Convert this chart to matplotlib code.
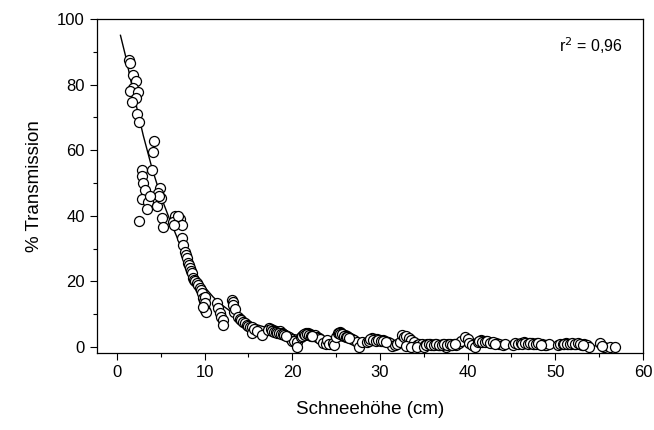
import matplotlib
matplotlib.use('Agg')
import matplotlib.pyplot as plt
from matplotlib.ticker import MultipleLocator

plt.rcParams['font.family'] = ['Liberation Sans', 'DejaVu Sans']

# measured points (snow depth cm, % transmission)
snow = [1.4, 1.5, 1.8, 2.2, 1.8, 1.5, 2.4, 2.2, 1.7, 2.3, 2.5,
        4.2, 4.1, 2.9, 4.0, 2.9, 3.0, 3.2, 4.9, 4.7, 2.9, 3.5, 3.4, 4.6, 2.5, 5.1,
        5.2, 5.0, 4.8, 6.6, 6.4, 7.2, 7.0, 7.4, 6.5, 3.8,
        7.4, 7.5, 7.75, 7.9, 8.0, 8.1, 8.2, 8.3, 8.45, 8.55, 8.7, 8.8, 8.9, 9.1,
        9.3, 9.5, 9.6, 9.7, 9.8, 9.9, 10.0, 10.0, 10.0, 10.2, 9.8,
        11.4, 11.5, 11.7, 11.9, 12.1, 12.1, 13.1, 13.2, 13.2, 13.4, 13.5, 13.8,
        14.0, 14.2, 14.4, 14.6, 14.8, 15.0, 15.2, 15.4, 15.4, 15.6, 16.0, 16.6,
        17.4, 17.2,
        17.6, 17.8, 18.0, 18.2, 18.4, 18.6, 18.8, 19.0, 19.2, 19.4, 19.6, 19.8,
        20.0, 20.2, 20.5, 20.5, 21.0, 21.2, 21.4, 21.6, 21.8, 22.0, 22.2, 22.4,
        22.6, 22.8, 23.0, 23.2, 23.5, 23.8, 24.0, 24.2, 24.6, 24.8,
        25.0, 25.2, 25.4, 25.6, 25.8, 26.0, 26.2, 26.4, 26.6, 26.8, 27.0, 27.4,
        27.6, 28.0, 28.5, 28.8, 29.1, 29.4, 29.7, 30.0, 30.3, 30.6, 30.9, 31.1,
        31.4, 31.7,
        32.0, 32.3, 32.5, 32.7, 33.0, 33.3, 33.6, 33.9, 34.2, 34.5, 34.8, 35.1,
        35.4, 35.7, 36.0, 36.3, 36.6, 36.9, 37.2, 37.5, 37.8, 38.1, 38.4, 38.7,
        39.0, 33.0, 33.6, 34.2, 35.0, 37.5,
        39.3, 39.7, 40.0, 40.2, 40.5, 40.8, 41.2, 41.5, 41.8, 42.1, 42.4, 42.7,
        43.0, 43.3, 43.6, 44.0, 44.3, 45.2, 45.4,
        45.8, 46.1, 46.4, 46.7, 47.0, 47.3, 47.6, 47.9, 48.2, 48.5, 48.8, 49.0,
        49.3,
        50.3, 50.6, 50.9, 51.2, 51.5, 51.8, 52.1, 52.4, 52.7, 53.0, 53.3, 53.6,
        53.9, 55.1, 55.6, 56.2, 56.8, 55.3,
        # densely overlapping runs in the tail
        17.7, 17.9, 18.1, 18.3, 18.5, 18.7, 18.9, 19.1, 19.3, 21.1, 21.3, 21.5,
        21.7, 21.9, 22.1, 22.3, 25.3, 25.5, 25.7, 25.9, 26.1, 26.3, 26.5, 28.9,
        29.2, 29.5, 29.8, 30.1, 30.4, 30.7, 35.25, 35.55, 35.85, 36.15, 36.45,
        36.75, 37.05, 37.35, 37.65, 37.95, 38.25, 38.55, 41.35, 41.65, 41.95,
        42.25, 42.55, 42.85, 43.15, 46.25, 46.55, 46.85, 47.15, 47.45, 47.75,
        48.05, 48.35, 51.05, 51.35, 51.65, 51.95, 52.25, 52.55, 52.85, 53.15]
trans = [87.5, 86.5, 83, 81, 79, 78, 77.6, 76, 74.6, 71, 68.5,
         62.7, 59.3, 54, 54, 52, 50, 48, 48.6, 47, 45, 44.3, 42, 43, 38.5, 39.4,
         36.7, 45.5, 46, 40, 38, 39, 39.8, 37.3, 37.3, 46,
         33.3, 31, 29, 28, 27.2, 25.7, 25, 24, 23.3, 22.6, 21, 20.5, 20.2, 19.6,
         19, 18, 17.4, 16.5, 15, 14.2, 15.3, 13.4, 11.3, 10.7, 12.3,
         13.4, 12, 10.4, 9.2, 8.3, 6.7, 14.4, 13.8, 12.8, 10.7, 11.6, 9.2,
         8.5, 8.3, 7.6, 7.2, 6.7, 6.4, 6.1, 6.1, 4.3, 5.5, 5, 3.7,
         5.8, 5.2,
         5.5, 5.3, 5.0, 4.8, 4.6, 4.8, 4.4, 4.0, 3.8, 3.4, 3.0, 2.5,
         2.0, 1.8, 1.5, 0.0, 3.2, 3.6, 4.0, 4.2, 4.3, 4.0, 3.8, 3.5,
         3.6, 3.2, 2.8, 2.4, 1.2, 1.0, 2.2, 0.8, 1.2, 0.6,
         3.0, 4.2, 4.6, 4.4, 3.7, 3.8, 3.4, 3.0, 2.8, 2.6, 2.2, 1.5,
         0.0, 1.6, 1.5, 2.0, 2.8, 2.6, 2.4, 2.1, 2.2, 1.9, 1.6, 1.2,
         0.3, 0.6,
         0.8, 1.5, 3.7, 3.0, 3.4, 2.8, 2.2, 1.5, 0.6, 1.0, 0.8, 0.6,
         1.0, 0.8, 0.5, 0.9, 0.7, 0.5, 0.8, 0.6, 1.0, 0.5, 0.8, 0.6,
         1.2, 0.2, 0.0, 0.0, 0.0, 0.0,
         2.0, 3.0, 2.5, 1.2, 0.5, 0.0, 1.5, 2.2, 2.0, 1.8, 1.6, 1.4,
         1.2, 1.4, 1.0, 0.6, 0.8, 0.6, 1.2,
         1.0, 1.3, 1.5, 1.2, 1.4, 1.2, 1.0, 1.2, 0.9, 0.8, 0.6, 0.6,
         0.9,
         0.6, 0.8, 1.0, 1.2, 1.0, 1.1, 0.9, 1.0, 0.8, 0.7, 0.9, 0.5,
         0.0, 1.2, 0.0, 0.0, 0.0, 0.3,
         5.0, 4.7, 4.5, 4.2, 4.4, 4.1, 3.9, 3.6, 3.3, 3.4, 3.9, 3.8,
         4.0, 3.7, 3.5, 3.3, 4.4, 4.0, 4.1, 3.5, 3.2, 3.1, 2.7, 2.4,
         2.3, 2.0, 2.1, 1.9, 1.8, 1.5, 0.7, 0.9, 0.6, 0.7, 0.9,
         0.6, 0.7, 0.9, 0.5, 0.8, 0.7, 0.9, 1.8, 1.7, 1.5,
         1.9, 1.4, 1.6, 1.1, 1.1, 1.4, 1.1, 1.3, 1.0, 0.9, 1.3,
         0.7, 1.0, 0.9, 1.0, 1.2, 0.8, 1.2, 1.0, 0.6]

# fitted curve
fit_x = [0.4, 1, 2, 3, 4, 5, 6, 7, 8, 9, 10, 11, 12, 13, 14, 15, 16, 18, 20,
         22, 25, 30, 35, 40, 45, 50, 57]
fit_y = [95, 88.5, 76, 64.5, 54.5, 46, 39, 32.5, 26.5, 22, 18.3, 15.2, 12.8,
         10.8, 9.2, 7.9, 6.8, 5.2, 3.9, 3.0, 2.0, 1.2, 0.8, 0.6, 0.5, 0.4, 0.4]

fig = plt.figure(figsize=(6.54, 4.3), dpi=100)
ax = fig.add_axes([0.148, 0.179, 0.835, 0.777])

ax.plot(fit_x, fit_y, color='black', lw=1.0, zorder=1)
ax.scatter(snow, trans, s=52, facecolors='white', edgecolors='black',
           linewidths=0.9, zorder=2)

ax.set_xlim(-2.3, 60)
ax.set_ylim(-1.8, 100)
ax.xaxis.set_major_locator(MultipleLocator(10))
ax.xaxis.set_minor_locator(MultipleLocator(5))
ax.yaxis.set_major_locator(MultipleLocator(20))
ax.yaxis.set_minor_locator(MultipleLocator(10))
ax.tick_params(which='major', direction='out', length=5, width=0.8,
               labelsize=12, colors='black')
ax.tick_params(which='minor', direction='out', length=3, width=0.8)
for sp in ax.spines.values():
  sp.set_linewidth(0.9)

ax.set_xlabel('Schneehöhe (cm)', fontsize=13.5, labelpad=15)
ax.set_ylabel('% Transmission', fontsize=13.5, labelpad=10)
ax.text(0.905, 0.92, 'r$^2$ = 0,96', transform=ax.transAxes, fontsize=11.5,
        ha='center', va='center')

fig.savefig('out.png', dpi=100)
